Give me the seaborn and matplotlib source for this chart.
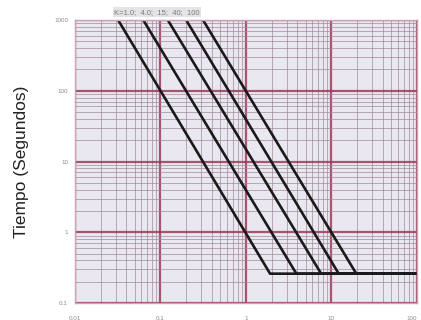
import numpy as np
import pandas as pd
import matplotlib
matplotlib.use("Agg")
import matplotlib.pyplot as plt
import matplotlib.ticker as mticker
import seaborn as sns

sns.set_theme(style="whitegrid")
plt.rcParams['font.family'] = ['Liberation Sans', 'DejaVu Sans']

# Valores (curvas I-t, K = 1, 4, 15, 40, 100)
curvas = ["K=1.0", "K=4.0", "K=15", "K=40", "K=100"]
corriente_sup = [0.032, 0.063, 0.122, 0.20, 0.315]   # corriente donde t = 1000 s
corriente_codo = [1.92, 3.9, 7.6, 12.2, 19.6]         # corriente donde la curva llega al mínimo
tiempo_max = 1000
tiempo_min = 0.26
corriente_fin = 100

filas = []
for nombre, i_sup, i_codo in zip(curvas, corriente_sup, corriente_codo):
    filas.append((nombre, 0, i_sup, tiempo_max))
    filas.append((nombre, 1, i_codo, tiempo_min))
    filas.append((nombre, 2, corriente_fin, tiempo_min))
df = pd.DataFrame(filas, columns=["curva", "orden", "I", "t"])

fig = plt.figure(figsize=(4.21, 3.2), dpi=100)
ax = fig.add_axes([0.178, 0.053, 0.812, 0.8845])
ax.set_facecolor("#e9e8f1")

sns.lineplot(data=df, x="I", y="t", hue="curva", sort=False,
             palette=["#1a1a1a"] * len(curvas), linewidth=1.9, legend=False,
             estimator=None, ax=ax)

ax.set_xscale("log")
ax.set_yscale("log")
ax.set_xlim(0.01, 100)
ax.set_ylim(0.1, 1000)

# rejilla tipo papel logarítmico
ax.xaxis.set_minor_locator(mticker.LogLocator(base=10, subs=np.arange(2, 10)))
ax.yaxis.set_minor_locator(mticker.LogLocator(base=10, subs=np.arange(2, 10)))
ax.grid(which="major", color="#9c3a5a", linewidth=1.6, alpha=0.85)
ax.grid(which="minor", color="#a08898", linewidth=0.7, alpha=0.7)
ax.set_axisbelow(True)
for s in ax.spines.values():
    s.set_color("#c9a3b3")
    s.set_linewidth(1.0)

ax.set_xticks([0.01, 0.1, 1, 10, 100])
ax.set_xticklabels(["0.01", "0.1", "1", "10", "100"])
ax.set_yticks([0.1, 1, 10, 100, 1000])
ax.set_yticklabels(["0.1", "1", "10", "100", "1000"])
ax.tick_params(axis="both", which="major", labelsize=4.5, labelcolor="#8a8a8a",
               length=2, color="#9a9a9a", pad=3)
ax.tick_params(axis="x", which="major", pad=7)
ax.tick_params(axis="both", which="minor", length=0)
ax.get_xticklabels()[-1].set_horizontalalignment("right")

ax.set_xlabel("")
ax.set_ylabel("Tiempo (Segundos)", fontsize=12.5, color="#222222", labelpad=18)

fig.text(0.373, 0.962, "K=1.0;  4.0;  15;  40;  100", fontsize=5.5, color="#7a7a7a",
         ha="center", va="center",
         bbox=dict(facecolor="#e4e4e8", edgecolor="none", pad=1.2))

fig.savefig("out.png", dpi=100)
